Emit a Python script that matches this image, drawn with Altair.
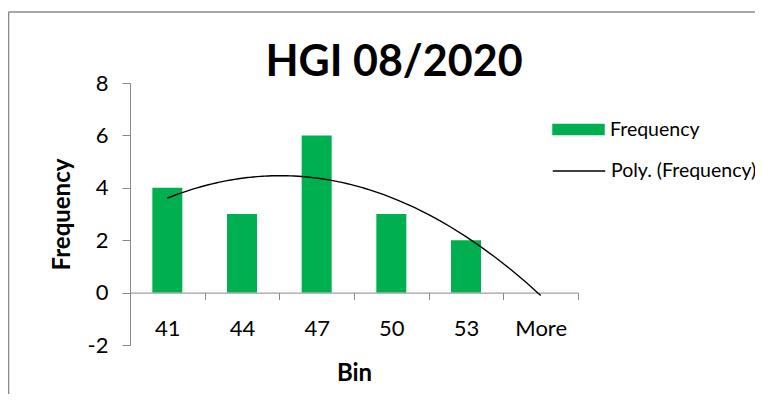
import altair as alt
import pandas as pd

# ---- data ----
bins = ["41", "44", "47", "50", "53", "More"]
freq = [4, 3, 6, 3, 2, 0]
idx = [1, 2, 3, 4, 5, 6]
y_ticks = [-2, 0, 2, 4, 6, 8]
title_text = "HGI 08/2020"
bar_series = "Frequency"
trend_series = "Poly. (Frequency)"

df = pd.DataFrame({"idx": idx, "bin": bins, "freq": freq})

W, H = 448, 262
PAD = {"left": 122, "top": 75, "right": 747 - 122 - 448, "bottom": 49}
FONT = "Lato"
GREEN = "#00B050"
AXIS_GRAY = "#898989"
BORDER = "#8a8a8a"

y_scale = alt.Scale(domain=[y_ticks[0], y_ticks[-1]], nice=False)

x_axis = alt.Axis(
    tickBand="extent",
    labelAngle=0,
    offset=-H * 2 / 10,
    tickSize=7,
    labelPadding=19,
    labelFont=FONT,
    labelFontSize=22,
    labelColor="black",
    domainColor=AXIS_GRAY,
    tickColor=AXIS_GRAY,
    grid=False,
    title="Bin",
    titleFont=FONT,
    titleFontSize=24,
    titleFontWeight="bold",
    titleColor="black",
    titlePadding=22,
)

y_axis = alt.Axis(
    values=y_ticks,
    labelExpr="toString(datum.value)",
    tickSize=8,
    labelPadding=14,
    labelFont=FONT,
    labelFontSize=22,
    labelColor="black",
    domainColor=AXIS_GRAY,
    tickColor=AXIS_GRAY,
    grid=False,
    title="Frequency",
    titleFont=FONT,
    titleFontSize=24,
    titleFontWeight="bold",
    titleColor="black",
    titlePadding=13,
)

bars = (
    alt.Chart(df)
    .transform_calculate(series=f"'{bar_series}'")
    .mark_bar(size=30)
    .encode(
        x=alt.X("bin:N", sort=bins, scale=alt.Scale(paddingInner=0, paddingOuter=0), axis=x_axis),
        y=alt.Y("freq:Q", scale=y_scale, axis=y_axis),
        fill=alt.Fill(
            "series:N",
            scale=alt.Scale(domain=[bar_series], range=[GREEN]),
            legend=alt.Legend(
                orient="none",
                legendX=422,
                legendY=20,
                title=None,
                symbolType="M-1,-0.22H1V0.22H-1Z",
                symbolSize=2756,
                symbolStrokeWidth=0,
                labelFont=FONT,
                labelFontSize=19.5,
                labelColor="black",
                labelOffset=5,
                padding=0,
            ),
        ),
    )
)

trend = (
    alt.Chart(df)
    .transform_regression("idx", "freq", method="poly", order=2, extent=[idx[0], idx[-1]])
    .transform_calculate(series=f"'{trend_series}'")
    .mark_line(strokeWidth=1.4)
    .encode(
        x=alt.X(
            "idx:Q",
            scale=alt.Scale(domain=[idx[0] - 0.5, idx[-1] + 0.5], nice=False, zero=False),
            axis=None,
        ),
        y=alt.Y("freq:Q", scale=y_scale),
        stroke=alt.Stroke(
            "series:N",
            scale=alt.Scale(domain=[trend_series], range=["black"]),
            legend=alt.Legend(
                orient="none",
                legendX=422,
                legendY=61,
                title=None,
                symbolType="stroke",
                symbolSize=2756,
                symbolStrokeWidth=1.4,
                labelFont=FONT,
                labelFontSize=19.5,
                labelColor="black",
                labelOffset=5,
                padding=0,
            ),
        ),
    )
)

one = pd.DataFrame({"k": [0]})
border_top = alt.Chart(one).mark_rule(color=BORDER, strokeWidth=1.6).encode(
    x=alt.value(-121.5), x2=alt.value(W + PAD["right"]), y=alt.value(-71)
)
border_left = alt.Chart(one).mark_rule(color=BORDER, strokeWidth=1.6).encode(
    x=alt.value(-121.5), y=alt.value(-71), y2=alt.value(H + PAD["bottom"])
)

chart = (
    alt.layer(bars, trend, border_top, border_left)
    .resolve_scale(x="independent", fill="independent", stroke="independent")
    .properties(
        width=W,
        height=H,
        autosize=alt.AutoSizeParams(type="none"),
        padding=PAD,
        title=alt.Title(
            title_text,
            font=FONT,
            fontSize=43,
            fontWeight="bold",
            color="black",
            anchor="middle",
            frame="group",
            dx=40,
            offset=-74,
        ),
    )
    .configure_view(stroke=None)
)

chart.save("out.html", embed_options={"renderer": "svg", "actions": False})
